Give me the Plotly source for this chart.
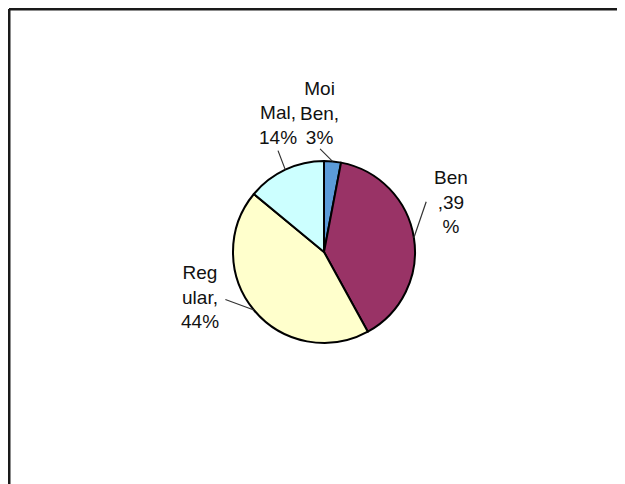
import math
import plotly.graph_objects as go

# Data
labels = ["Moi Ben", "Ben", "Regular", "Mal"]
values = [3, 39, 44, 14]
label_texts = ["Moi<br>Ben,<br>3%", "Ben<br>,39<br>%", "Reg<br>ular,<br>44%", "Mal,<br>14%"]
colors = ["#5B9BD8", "#993366", "#FFFFCC", "#CCFFFF"]

W, H = 617, 476
OFF = 8  # page body margin offset
CX, CY, R = 324 - OFF, 252 - OFF, 91  # pie centre / radius in pixels (layout)

# text block centres (pixels) and leader tail offsets (pixels)
text_pos = [(319 - OFF, 113 - OFF), (451 - OFF, 202 - OFF), (200 - OFF, 297 - OFF), (278 - OFF, 125 - OFF)]
tail_off = [(-14, -14), (13, -38), (-30, -11), (-8, -21)]

fig = go.Figure()
fig.add_trace(go.Pie(
    labels=labels, values=values, sort=False, direction="clockwise", rotation=0,
    marker=dict(colors=colors, line=dict(color="#000000", width=2)),
    textinfo="none", hoverinfo="label+percent", showlegend=False,
    domain=dict(x=[(CX - R) / W, (CX + R) / W], y=[1 - (CY + R) / H, 1 - (CY - R) / H]),
))

total = sum(values)
annotations = []
cum = 0
for i, v in enumerate(values):
    mid = (cum + v / 2) / total * 2 * math.pi
    cum += v
    hx = CX + R * math.sin(mid)
    hy = CY - R * math.cos(mid)
    annotations.append(dict(
        x=hx / W, y=1 - hy / H, xref="paper", yref="paper",
        text=" ", showarrow=True, arrowhead=0, arrowwidth=1.2, arrowcolor="#333333",
        ax=tail_off[i][0], ay=tail_off[i][1], font=dict(size=1),
    ))
    tx, ty = text_pos[i]
    annotations.append(dict(
        x=tx / W, y=1 - ty / H, xref="paper", yref="paper",
        text=label_texts[i], showarrow=False, xanchor="center", yanchor="middle",
        font=dict(family="Liberation Sans, Arial, sans-serif", size=19, color="#111111"),
        align="center",
    ))

FR = 1  # frame position in figure pixels
shapes = [
    dict(type="line", xref="paper", yref="paper", x0=FR / W, x1=1.0, y0=1 - FR / H, y1=1 - FR / H,
         line=dict(color="#1a1a1a", width=3)),
    dict(type="line", xref="paper", yref="paper", x0=FR / W, x1=FR / W, y0=1 - FR / H, y1=0.0,
         line=dict(color="#1a1a1a", width=3)),
]

fig.update_layout(
    width=W, height=H, margin=dict(l=0, r=0, t=0, b=0),
    paper_bgcolor="white", plot_bgcolor="white",
    annotations=annotations, shapes=shapes,
)

fig.write_html("out.html")
